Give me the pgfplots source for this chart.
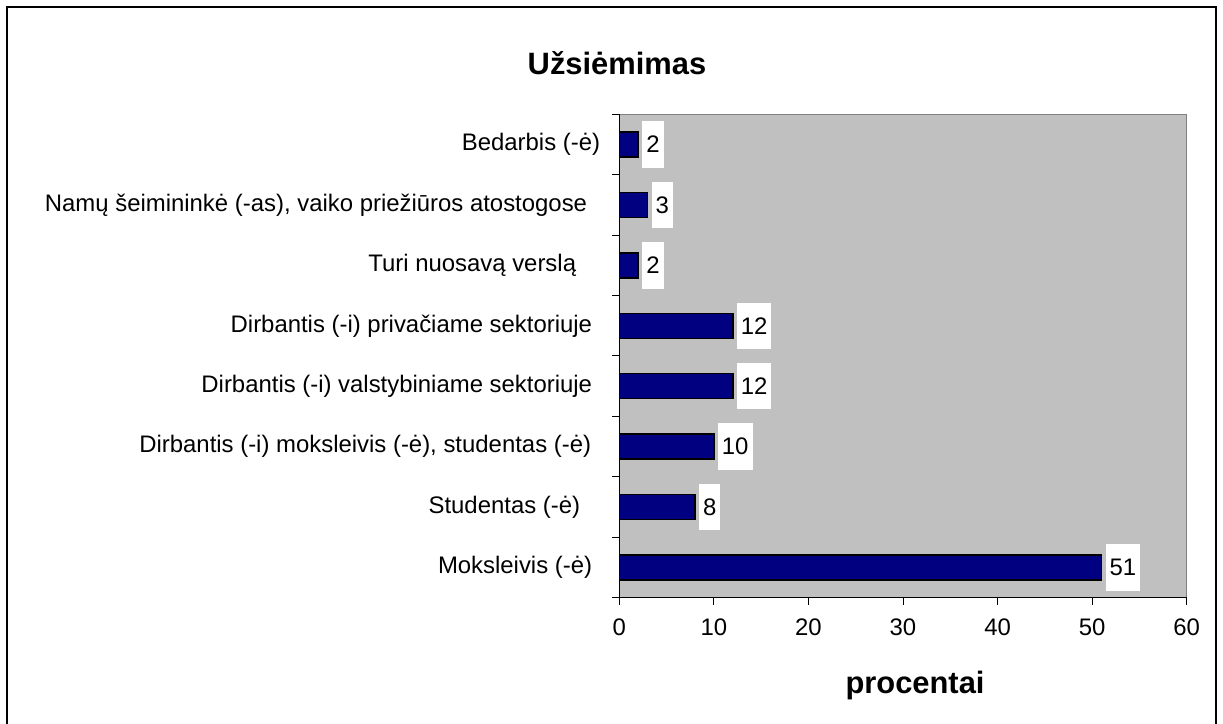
\documentclass[border=0pt]{standalone}
\usepackage{fontspec}
\setmainfont{Liberation Sans}
\usepackage{pgfplots}
\pgfplotsset{compat=1.18}
\definecolor{plotgray}{RGB}{192,192,192}
\definecolor{framegray}{RGB}{128,128,128}
\definecolor{barnavy}{RGB}{0,0,128}
\newcommand{\gap}[1]{\rule{#1bp}{0pt}}
\begin{document}
\begin{tikzpicture}[font=\fontsize{24}{28}\selectfont]
\useasboundingbox (0,0) rectangle (1223bp,724bp);
\fill[white] (0,0) rectangle (1223bp,724bp);
\begin{axis}[
  at={(619.3bp,126.3bp)}, anchor=south west,
  scale only axis, width=567.4bp, height=483.4bp,
  xbar, xmin=0, xmax=60, ymin=-0.5, ymax=7.5,
  bar width=25bp,
  axis background/.style={fill=plotgray, draw=framegray, line width=1bp},
  axis x line*=bottom, axis y line*=left,
  axis line style={black, line width=1.2bp},
  /pgf/number format/assume math mode=true,
  xtick={0,10,...,60},
  tick align=outside,
  major tick length=7bp,
  tick style={black, line width=1bp},
  xticklabel style={yshift=-11bp},
  ytick={-0.5,0.5,...,7.5},
  yticklabels={},
  extra y ticks={0,1,2,3,4,5,6,7},
  extra y tick labels={Moksleivis (-ė)\gap{8},Studentas (-ė)\gap{20},Dirbantis (-i) moksleivis (-ė)\hbox{,} studentas (-ė)\gap{9},Dirbantis (-i) valstybiniame sektoriuje\gap{8},Dirbantis (-i) privačiame sektoriuje\gap{8},Turi nuosavą verslą\gap{24},Namų šeimininkė (-as)\hbox{,} vaiko priežiūros atostogose\gap{13},Bedarbis (-ė)},
  extra y tick style={major tick length=0pt, tick style={draw=none}},
  yticklabel style={inner xsep=0pt, xshift=-19bp},
  nodes near coords,
  nodes near coords style={anchor=west, text=black, inner xsep=4bp, inner ysep=15bp, xshift=3.3bp, text height=16.5bp, text depth=0pt, fill=white},
  clip=false,
]
\addplot[fill=barnavy, draw=black, line width=1.5bp] coordinates {
  (51,0) (8,1) (10,2) (12,3) (12,4) (2,5) (3,6) (2,7)
};
\end{axis}
\node[anchor=base, font=\fontsize{31}{36}\selectfont\bfseries] at (617bp,649bp) {Užsiėmimas};
\node[anchor=base, font=\fontsize{31}{36}\selectfont\bfseries] at (915bp,31bp) {procentai};
\draw[black, line width=2bp] (7bp,-10bp) -- (7bp,717bp) -- (1216bp,717bp) -- (1216bp,-10bp);
\end{tikzpicture}
\end{document}
